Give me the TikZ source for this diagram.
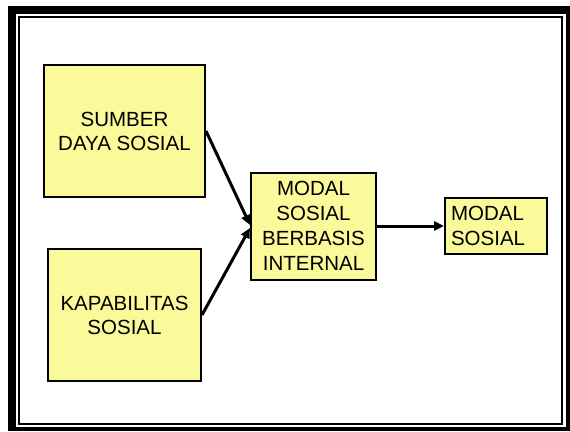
\documentclass[tikz,border=0pt]{standalone}
\usepackage{fontspec}
\setmainfont{Liberation Sans}
\usetikzlibrary{arrows.meta}
\definecolor{boxyellow}{RGB}{250,250,155}
\tikzset{
  box/.style={draw=black, line width=2pt, fill=boxyellow, align=center,
    inner sep=0pt, font=\fontsize{20.5}{24}\selectfont},
  arr/.style={line width=3pt, -{Triangle[length=10pt,width=9pt]}}
}
\begin{document}
\begin{tikzpicture}[x=1pt,y=-1pt]
\useasboundingbox (0,0) rectangle (570,431);
\fill[white] (0,0) rectangle (570,431);
% frame
\fill[black] (8,6) rectangle (570,431);
\fill[white] (16,14) rectangle (565.5,427);
\draw[line width=2pt] (19,17) rectangle (562,424);
% boxes
\node[box, minimum width=161pt, minimum height=132pt] (b1) at (124.5,131) {SUMBER\\DAYA SOSIAL};
\node[box, minimum width=153pt, minimum height=132pt] (b2) at (124.5,315) {KAPABILITAS\\SOSIAL};
\node[box, minimum width=125pt, minimum height=107pt, font=\fontsize{20.5}{25}\selectfont] (b3) at (313.5,226) {MODAL\\SOSIAL\\BERBASIS\\INTERNAL};
\node[box, align=left, text width=90pt, inner xsep=6pt, minimum height=56pt, font=\fontsize{20.5}{25.5}\selectfont] (b4) at (496,226) {MODAL\\SOSIAL};
% arrows
\draw[arr] (b1.east) -- ([yshift=1pt]b3.west);
\draw[arr] (b2.east) -- ([yshift=-2pt]b3.west);
\draw[arr] (b3.east) -- (b4.west);
\end{tikzpicture}
\end{document}
